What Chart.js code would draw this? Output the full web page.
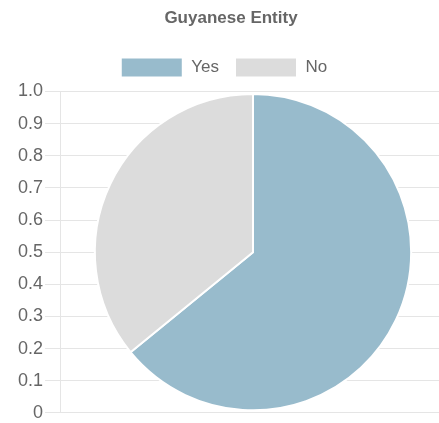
<!DOCTYPE html>
<html>
<head>
<meta charset="utf-8">
<script src="https://cdn.jsdelivr.net/npm/chart.js@4/dist/chart.umd.min.js"></script>
<style>
  html, body { margin: 0; padding: 0; overflow: hidden; background: #fff; }
  #wrap { width: 462px; height: 423px; }
</style>
</head>
<body>
<div id="wrap"><canvas id="pie-chart"></canvas></div>
<script>
// chart data
var chartTitle = 'Guyanese Entity';
var labels = ['Yes', 'No'];
var values = [0.641, 0.359];
var sliceColors = ['#98bbcc', '#dcdcdc'];

Chart.defaults.font.family = "'Liberation Sans', Arial, Helvetica, sans-serif";
Chart.defaults.color = '#666';

// a bit more room under the legend, and nudge it left like the original
var legendTweak = {
  id: 'legendTweak',
  beforeInit: function(chart) {
    var origFit = chart.legend.fit;
    chart.legend.fit = function() {
      origFit.bind(chart.legend)();
      this.height += 4;
    };
  },
  afterLayout: function(chart) {
    chart.legend.left -= 7;
    chart.legend.right -= 7;
  }
};

var ctx = document.getElementById('pie-chart').getContext('2d');

var pieChart = new Chart(ctx, {
  type: 'pie',
  data: {
    labels: labels,
    datasets: [{
      data: values,
      backgroundColor: sliceColors,
      borderColor: '#fff',
      borderWidth: 2,
      radius: '99%'
    }]
  },
  options: {
    responsive: true,
    maintainAspectRatio: false,
    animation: false,
    layout: { padding: { left: 16, right: 16 } },
    plugins: {
      title: {
        display: true,
        text: chartTitle,
        color: '#666',
        font: { size: 17, weight: 'bold' },
        padding: { top: 8, bottom: 13 }
      },
      legend: {
        display: true,
        labels: {
          boxWidth: 62,
          boxHeight: 20,
          padding: 16,
          font: { size: 17 }
        }
      },
      tooltip: { enabled: false }
    },
    scales: {
      y: {
        type: 'linear',
        display: true,
        min: 0,
        max: 1,
        ticks: { stepSize: 0.1, padding: 2, font: { size: 18, lineHeight: 0.9 }, color: '#666' },
        grid: { color: 'rgba(0,0,0,0.1)', tickLength: 15 }
      }
    }
  },
  plugins: [legendTweak]
});
</script>
</body>
</html>
